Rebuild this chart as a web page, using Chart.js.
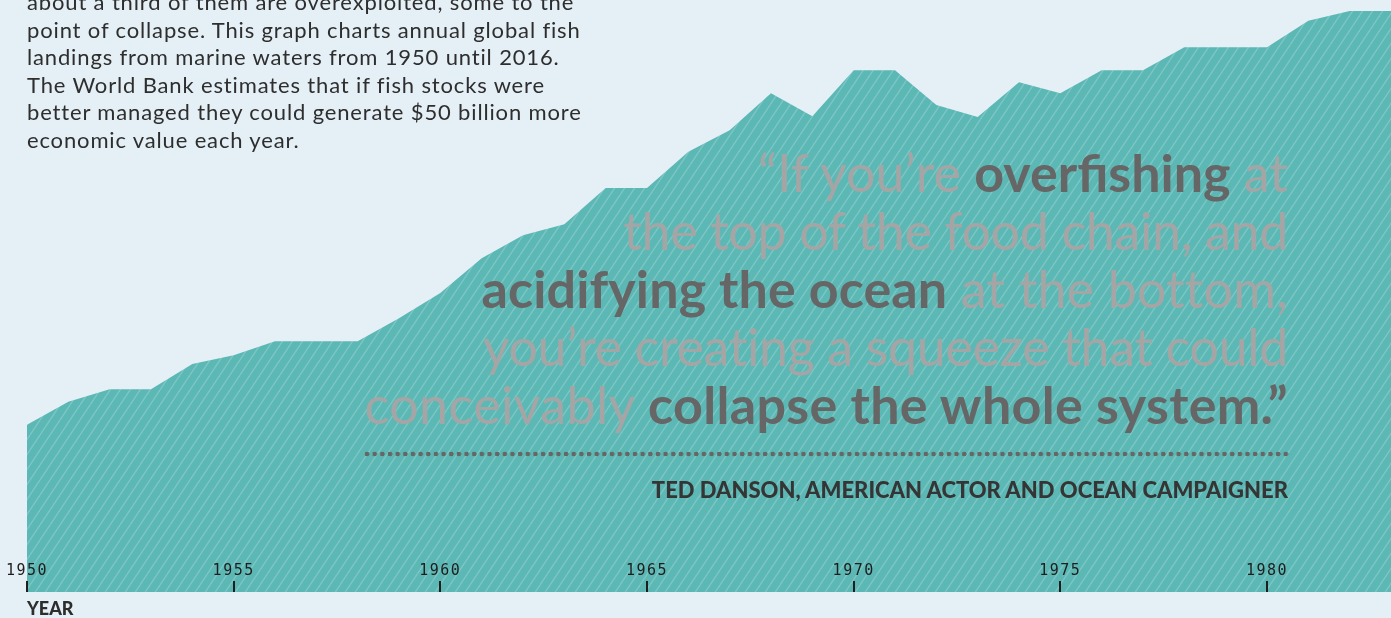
<!DOCTYPE html>
<html><head><meta charset="utf-8">
<script src="https://cdn.jsdelivr.net/npm/chart.js@4.4.1/dist/chart.umd.min.js"></script>
<style>
html,body{margin:0;padding:0;background:#e4eff6;}
#wrap{position:relative;width:1391px;height:618px;overflow:hidden;background:#e4eff6;}
#c{position:absolute;left:0;top:0;}
.intro{position:absolute;left:27px;top:-12px;font-family:Lato,sans-serif;font-size:22px;line-height:27.5px;letter-spacing:0.85px;color:#2e2e2e;white-space:nowrap;}
.quote{position:absolute;right:103px;top:143px;font-family:Lato,sans-serif;font-size:52px;line-height:58px;text-align:right;white-space:nowrap;}
.quote>div{margin-right:0;}
.l{color:#a5a5a5;font-weight:400;}
.d{color:#666666;font-weight:700;}
.q2{letter-spacing:-0.37px;}
.q3{letter-spacing:0.14px;}
.q4{letter-spacing:-0.36px;}
.q5{letter-spacing:0.33px;}
.dots{position:absolute;left:364px;top:451px;width:927px;height:6px;background-image:radial-gradient(circle at 3px 3px,#666 2.1px,transparent 2.6px);background-size:7.66px 6px;background-repeat:repeat-x;}
.attr{position:absolute;right:103px;top:477px;font-family:Lato,sans-serif;font-weight:900;font-size:22px;line-height:26px;color:#353535;white-space:nowrap;}
.year{position:absolute;left:27px;top:597px;font-family:Lato,sans-serif;font-weight:900;font-size:18px;line-height:22px;color:#2d2d2d;}
</style></head>
<body>
<div id="wrap">
<canvas id="c" width="1391" height="618"></canvas>
<div class="intro">about a third of them are overexploited, some to the<br>point of collapse. This graph charts annual global fish<br>landings from marine waters from 1950 until 2016.<br>The World Bank estimates that if fish stocks were<br>better managed they could generate $50 billion more<br>economic value each year.</div>
<div class="quote">
<div><span class="l">“If you’re </span><span class="d">overfishing</span><span class="l"> at</span></div>
<div class="l q2">the top of the food chain, and</div>
<div class="q3"><span class="d">acidifying the ocean</span><span class="l"> at the bottom,</span></div>
<div class="l q4">you’re creating a squeeze that could</div>
<div class="q5"><span class="l">conceivably </span><span class="d">collapse the whole system.”</span></div>
</div>
<div class="dots"></div>
<div class="attr">TED DANSON, AMERICAN ACTOR AND OCEAN CAMPAIGNER</div>
<div class="year">YEAR</div>
</div>
<script>
// Annual global marine fish landings (approx.; arbitrary units ~ million tonnes)
const years = [1950,1951,1952,1953,1954,1955,1956,1957,1958,1959,1960,1961,1962,1963,1964,1965,1966,
  1967,1968,1969,1970,1971,1972,1973,1974,1975,1976,1977,1978,1979,1980,1981,1982,1983];
const landings = [22.6,25.7,27.4,27.4,30.8,32.0,33.9,33.9,33.9,37.0,40.4,45.1,48.2,49.7,54.6,54.6,59.5,
  62.4,67.4,64.3,70.5,70.5,65.8,64.2,68.9,67.4,70.5,70.5,73.6,73.6,73.6,77.2,78.5,78.5];
const tickYears = [1950,1955,1960,1965,1970,1975,1980];

function hatchPattern(ctx){
  const w=10,h=15;
  const c=document.createElement('canvas');c.width=w;c.height=h;
  const g=c.getContext('2d');
  g.fillStyle='#5cb8b5';g.fillRect(0,0,w,h);
  g.strokeStyle='rgba(255,255,255,0.2)';g.lineWidth=1.4;
  for(const k of [-1,0,1]){g.beginPath();g.moveTo(k*w,h);g.lineTo(k*w+w,0);g.stroke();}
  return ctx.createPattern(c,'repeat');
}

const ctx=document.getElementById('c').getContext('2d');
const tickMarks={
  id:'tickMarks',
  afterDatasetsDraw(chart){chart.ctx.letterSpacing='1.5px';},
  afterDraw(chart){
    const s=chart.scales.x,c=chart.ctx;
    c.letterSpacing='0px';
    c.save();c.strokeStyle='#1e1e1e';c.lineWidth=2;
    s.ticks.forEach(t=>{const x=Math.round(s.getPixelForValue(t.value));
      c.beginPath();c.moveTo(x,s.top-11);c.lineTo(x,s.top);c.stroke();});
    c.restore();
  }
};
new Chart(ctx,{
  type:'line',
  data:{datasets:[{
    data:years.map((y,i)=>({x:y,y:landings[i]})),
    fill:'origin',backgroundColor:hatchPattern(ctx),borderWidth:0,pointRadius:0,tension:0
  }]},
  options:{
    responsive:false,animation:false,devicePixelRatio:1,
    layout:{padding:{left:27,right:0,top:0,bottom:0}},
    plugins:{legend:{display:false},tooltip:{enabled:false}},
    scales:{
      x:{type:'linear',min:1950,max:1983,
        grid:{display:false},border:{display:false},
        afterBuildTicks:(s)=>{s.ticks=tickYears.map(v=>({value:v}));},
        afterFit:(s)=>{s.height=26;s.paddingLeft=0;s.paddingRight=0;},
        ticks:{mirror:true,padding:12,z:1,color:'#1e1e1e',maxRotation:0,autoSkip:false,
          font:{family:'DejaVu Sans Mono',size:15},callback:(v)=>String(v)}},
      y:{display:false,min:0,max:80}
    }
  },
  plugins:[tickMarks]
});
</script>
</body></html>
